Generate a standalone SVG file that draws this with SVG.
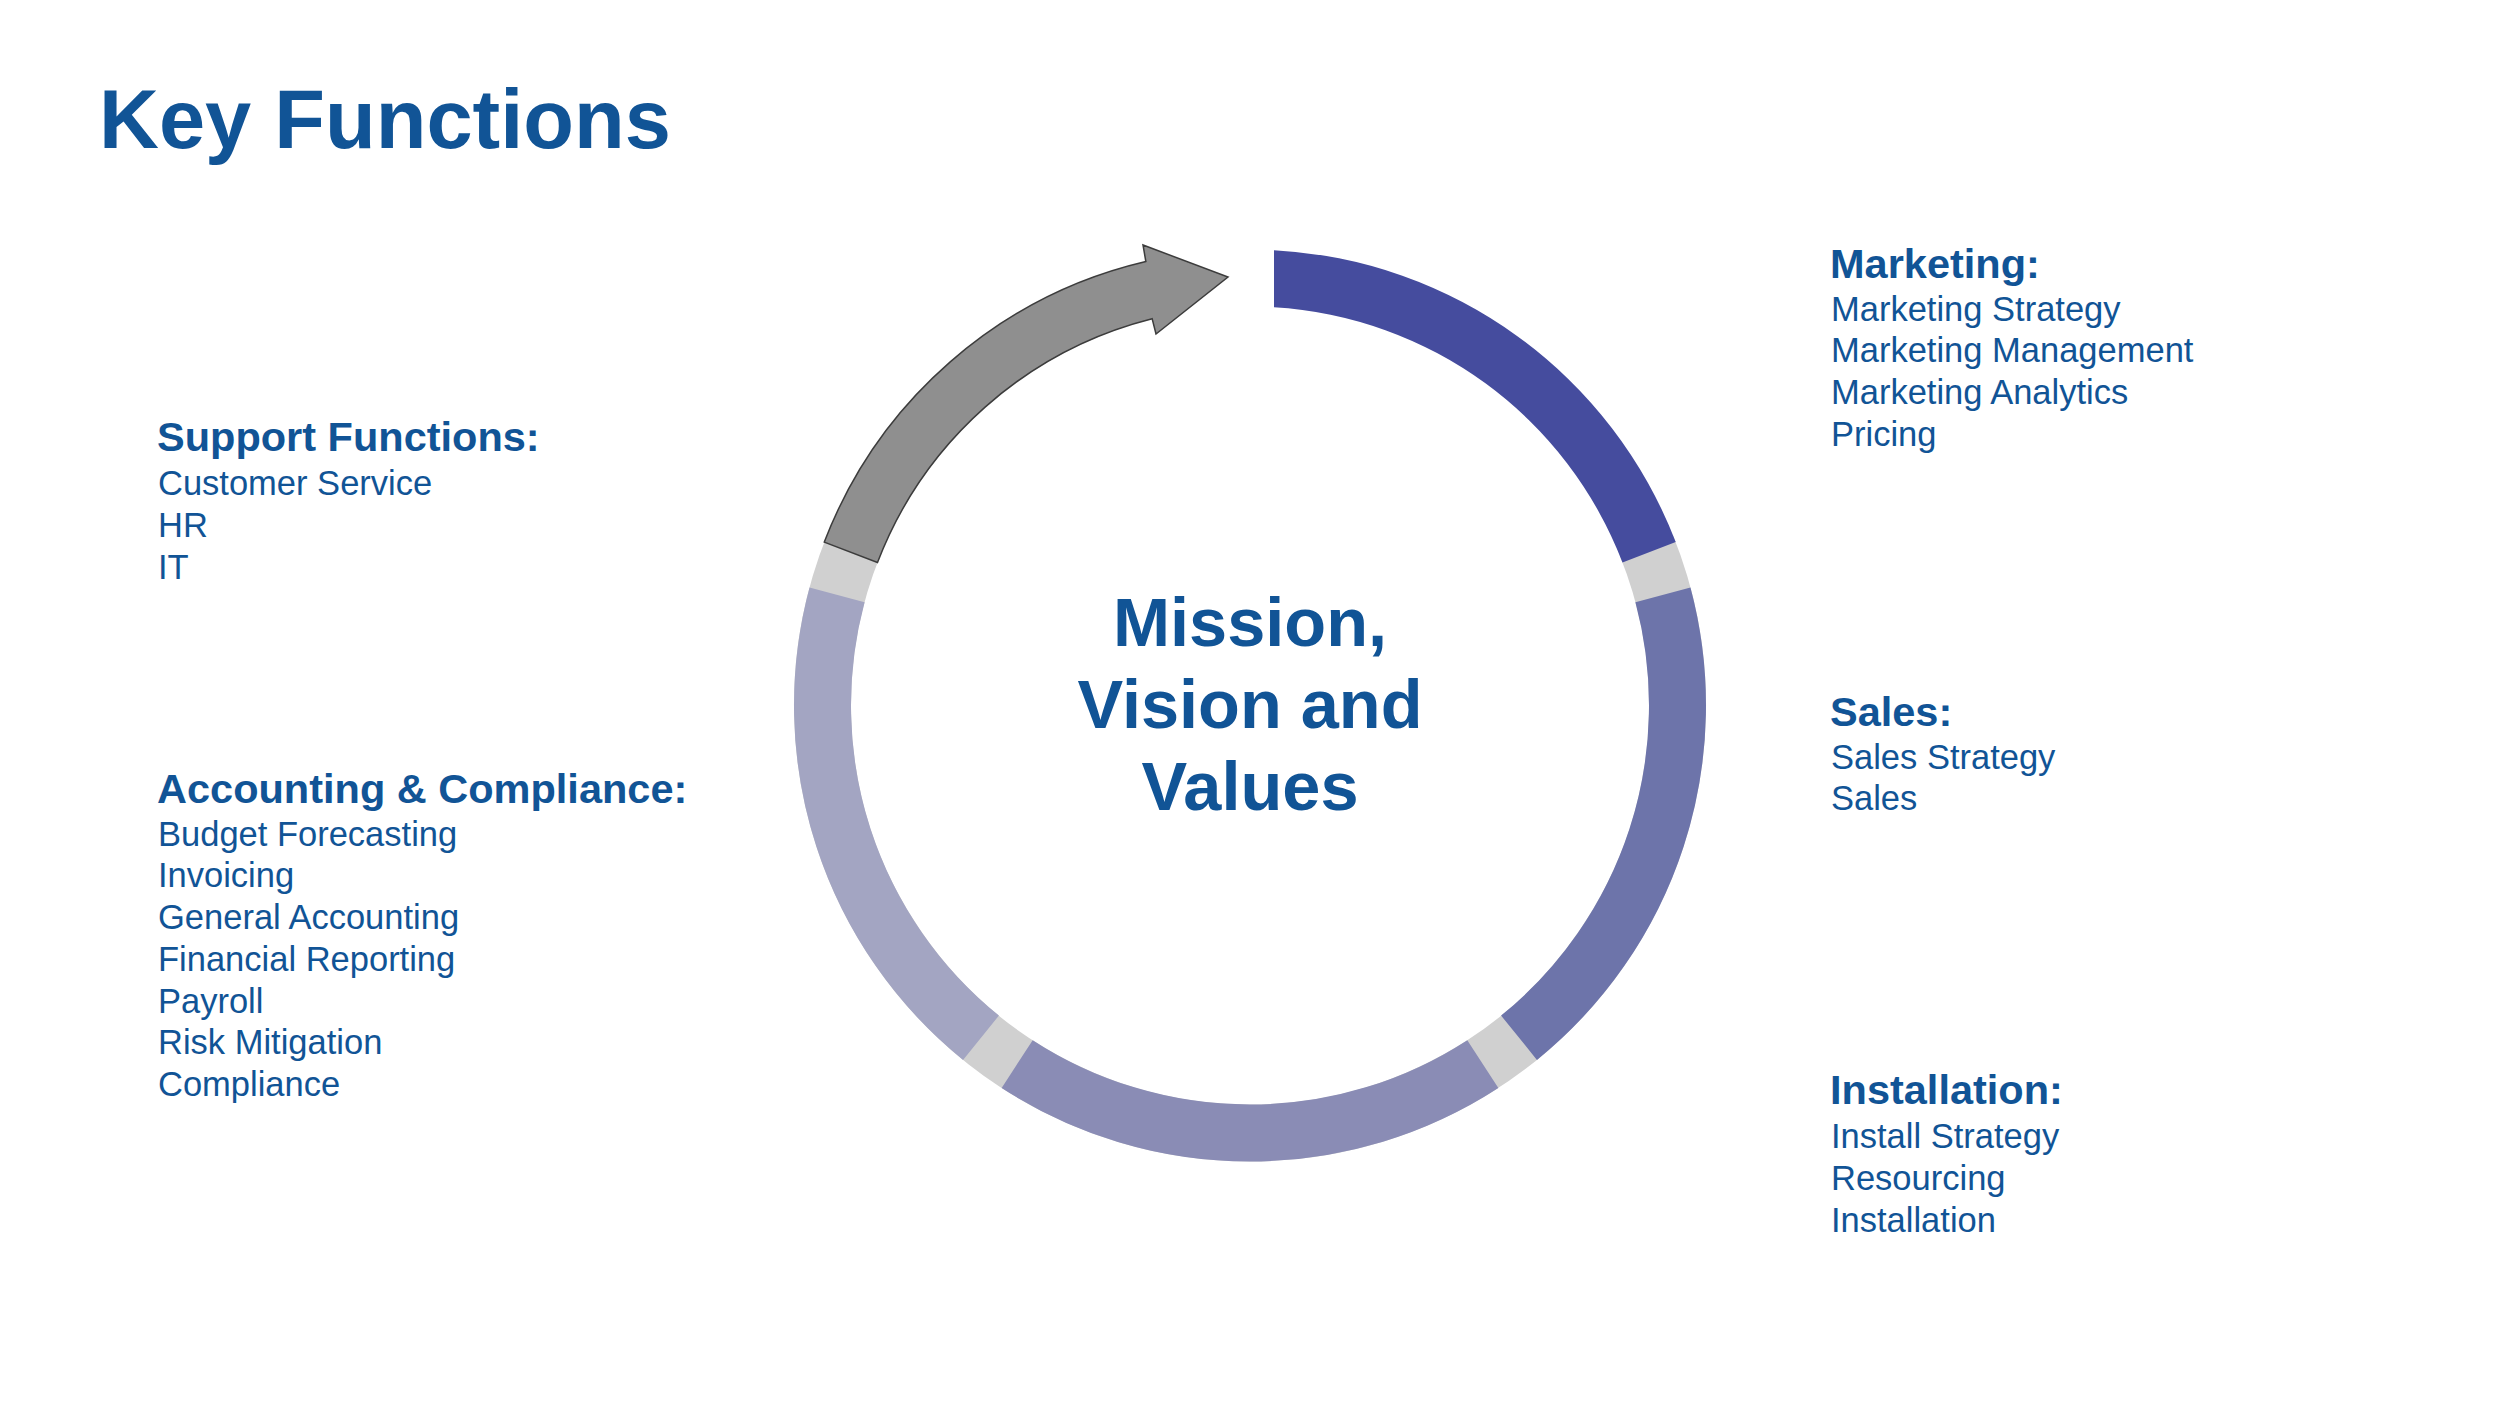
<svg xmlns="http://www.w3.org/2000/svg" width="2500" height="1407" viewBox="0 0 2500 1407">
<style>
text{font-family:"Liberation Sans",Arial,Helvetica,sans-serif;fill:#115496}
.title{font-size:83px;font-weight:bold}
.center{font-size:68.5px;font-weight:bold;text-anchor:middle}
.head{font-size:41.5px;font-weight:bold}
.item{font-size:34.5px}
.seg{fill:none;stroke-width:57}
</style>
<rect width="2500" height="1407" fill="#ffffff"/>
<g id="title"><text class="title" x="99" y="148">Key Functions</text></g>
<g id="connectors">
<path class="seg" stroke="#D0D0D0" d="M1646.37,545.35 A427.5 427.5 0 1 1 853.63,545.35"/>
<path id="seg-marketing" fill="#454C9E" d="M1274,250.13 A456 456 0 0 1 1675.71,542.08 L1622.50,562.51 A399 399 0 0 0 1274,307.22 Z"/>
<path id="seg-sales" class="seg" stroke="#6D74AA" d="M1662.93,594.85 A427.5 427.5 0 0 1 1519.03,1037.73"/>
<path id="seg-install" class="seg" stroke="#8A8CB5" d="M1482.83,1064.03 A427.5 427.5 0 0 1 1017.17,1064.03"/>
<path id="seg-accounting" class="seg" stroke="#A3A5C2" d="M980.97,1037.73 A427.5 427.5 0 0 1 837.07,594.85"/>
<path id="arrow-support" fill="#8F8F8F" stroke="#3C3C3C" stroke-width="1.5" stroke-linejoin="miter" d="M824.29,542.08 A456 456 0 0 1 1145.85,261.55 L1143,245 L1228,277 L1156,334 L1152.12,318.69 A399 399 0 0 0 877.50,562.51 Z"/>
</g>
<g id="node-center"><text class="center" x="1250" y="646">Mission,</text><text class="center" x="1250" y="728">Vision and</text><text class="center" x="1250" y="810">Values</text></g>
<g id="node-support">
<text class="head" x="157" y="451">Support Functions:</text>
<text class="item" x="158" y="495">Customer Service</text>
<text class="item" x="158" y="537">HR</text>
<text class="item" x="158" y="579">IT</text>
</g>
<g id="node-accounting">
<text class="head" x="157" y="803">Accounting &amp; Compliance:</text>
<text class="item" x="158" y="845.5">Budget Forecasting</text>
<text class="item" x="158" y="887">Invoicing</text>
<text class="item" x="158" y="929">General Accounting</text>
<text class="item" x="158" y="970.5">Financial Reporting</text>
<text class="item" x="158" y="1012.5">Payroll</text>
<text class="item" x="158" y="1054">Risk Mitigation</text>
<text class="item" x="158" y="1096">Compliance</text>
</g>
<g id="node-marketing">
<text class="head" x="1830" y="278">Marketing:</text>
<text class="item" x="1831" y="320.5">Marketing Strategy</text>
<text class="item" x="1831" y="362">Marketing Management</text>
<text class="item" x="1831" y="403.5">Marketing Analytics</text>
<text class="item" x="1831" y="445.5">Pricing</text>
</g>
<g id="node-sales">
<text class="head" x="1830" y="726">Sales:</text>
<text class="item" x="1831" y="768.5">Sales Strategy</text>
<text class="item" x="1831" y="810">Sales</text>
</g>
<g id="node-installation">
<text class="head" x="1830" y="1104">Installation:</text>
<text class="item" x="1831" y="1147.5">Install Strategy</text>
<text class="item" x="1831" y="1189.5">Resourcing</text>
<text class="item" x="1831" y="1231.5">Installation</text>
</g>
</svg>
